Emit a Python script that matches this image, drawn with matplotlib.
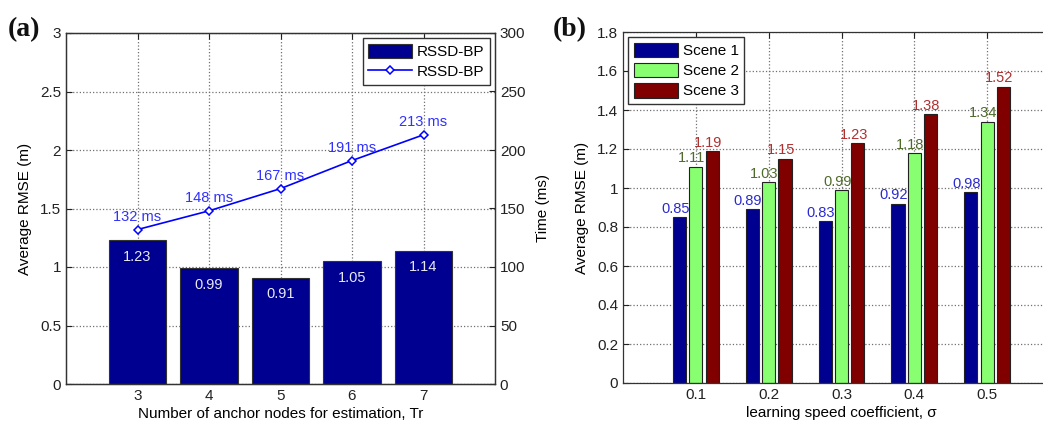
import matplotlib
matplotlib.use('Agg')
import matplotlib.pyplot as plt
import numpy as np

plt.rcParams['font.family'] = ['Liberation Sans', 'DejaVu Sans']

# panel (a)
anchors = [3, 4, 5, 6, 7]
rmse_a = [1.23, 0.99, 0.91, 1.05, 1.14]
time_ms = [132, 148, 167, 191, 213]

# panel (b)
sigma = [0.1, 0.2, 0.3, 0.4, 0.5]
scene1 = [0.85, 0.89, 0.83, 0.92, 0.98]
scene2 = [1.11, 1.03, 0.99, 1.18, 1.34]
scene3 = [1.19, 1.15, 1.23, 1.38, 1.52]

NAVY = '#000090'
GREEN = '#88FF70'
DRED = '#800000'
GRID = dict(color='#707070', linestyle=':', linewidth=0.9)
FS = 11
LFS = 10.5

W, H = 1043, 424
fig = plt.figure(figsize=(W / 100, H / 100), dpi=100)
fig.patch.set_facecolor('white')


def box_px(l, t, r, b):
    return [l / W, 1 - b / H, (r - l) / W, (b - t) / H]


def style(ax):
    ax.tick_params(direction='in', labelsize=FS, length=4, width=0.8, colors='#222',
                   top=True)
    for s in ax.spines.values():
        s.set_color('#333')
        s.set_linewidth(0.9)
    ax.grid(True, **GRID)
    ax.set_axisbelow(True)


LEG = dict(fontsize=FS, frameon=True, fancybox=False, edgecolor='#333', framealpha=1,
           borderaxespad=0.35, handlelength=2.9, handleheight=1.1, borderpad=0.35,
           labelspacing=0.3, handletextpad=0.3)

# ---- (a) ----
ax1 = fig.add_axes(box_px(66, 33, 495, 384))
style(ax1)
ax1.tick_params(right=False)
ax1.bar(anchors, rmse_a, width=0.8, color=NAVY, edgecolor='#333', linewidth=0.8,
        label='RSSD-BP')
for x, v in zip(anchors, rmse_a):
    ax1.annotate(f'{v:.2f}', (x, v), xytext=(0, -7), textcoords='offset points',
                 ha='center', va='top', color='#e8e8f0', fontsize=LFS)
ax1.set_xlim(2, 8)
ax1.set_ylim(0, 3)
ax1.set_xticks(anchors)
ax1.set_yticks(np.arange(0, 3.01, 0.5))
ax1.set_yticklabels(['0', '0.5', '1', '1.5', '2', '2.5', '3'])
ax1.set_xlabel('Number of anchor nodes for estimation, Tr', fontsize=FS, labelpad=3)
ax1.set_ylabel('Average RMSE (m)', fontsize=FS, labelpad=6)

ax2 = ax1.twinx()
ax2.plot(anchors, time_ms, color='#0000FF', linewidth=1.2, marker='D', markersize=4.5,
         markerfacecolor='white', markeredgecolor='#0000FF', markeredgewidth=1.1,
         label='RSSD-BP')
for x, v in zip(anchors, time_ms):
    ax2.annotate(f'{v} ms', (x, v), xytext=(0, 4), textcoords='offset points',
                 ha='center', va='bottom', color='#3030FF', fontsize=LFS)
ax2.set_ylim(0, 300)
ax2.set_yticks(np.arange(0, 301, 50))
ax2.tick_params(direction='in', labelsize=FS, length=4, colors='#222')
ax2.set_ylabel('Time (ms)', fontsize=FS, labelpad=8)
for s in ax2.spines.values():
    s.set_color('#333')
    s.set_linewidth(0.9)

h1, l1 = ax1.get_legend_handles_labels()
h2, l2 = ax2.get_legend_handles_labels()
ax2.legend(h1 + h2, l1 + l2, loc='upper right', **LEG)

fig.text(8 / W, 1 - 30 / H, '(a)', fontsize=20, fontweight='bold',
         family='Liberation Serif', va='center', ha='left', color='#111')

# ---- (b) ----
ax3 = fig.add_axes(box_px(623, 32, 1060, 383))
style(ax3)
w = 0.018
off = 0.0225
ax3.bar(np.array(sigma) - off, scene1, width=w, color=NAVY, edgecolor='#222',
        linewidth=0.8, label='Scene 1')
ax3.bar(np.array(sigma), scene2, width=w, color=GREEN, edgecolor='#222',
        linewidth=0.8, label='Scene 2')
ax3.bar(np.array(sigma) + off, scene3, width=w, color=DRED, edgecolor='#222',
        linewidth=0.8, label='Scene 3')
for vals, dx, col in [(scene1, -off, '#2a2ad0'), (scene2, 0, '#4f6a2a'),
                      (scene3, off, '#b03030')]:
    for x, v in zip(sigma, vals):
        ax3.annotate(f'{v:.2f}', (x + dx, v), xytext=(-3, 1), textcoords='offset points',
                     ha='center', va='bottom', color=col, fontsize=LFS)
ax3.set_xlim(0, 0.6)
ax3.set_ylim(0, 1.8)
ax3.set_xticks(sigma)
ax3.set_xticklabels(['0.1', '0.2', '0.3', '0.4', '0.5'])
ax3.set_yticks(np.arange(0, 1.81, 0.2))
ax3.set_yticklabels(['0', '0.2', '0.4', '0.6', '0.8', '1', '1.2', '1.4', '1.6', '1.8'])
ax3.tick_params(right=True)
ax3.set_xlabel('learning speed coefficient, σ', fontsize=FS, labelpad=3)
ax3.set_ylabel('Average RMSE (m)', fontsize=FS, labelpad=6)
ax3.legend(loc='upper left', **LEG)

fig.text(553 / W, 1 - 30 / H, '(b)', fontsize=20, fontweight='bold',
         family='Liberation Serif', va='center', ha='left', color='#111')

fig.savefig('out.png', dpi=100)
